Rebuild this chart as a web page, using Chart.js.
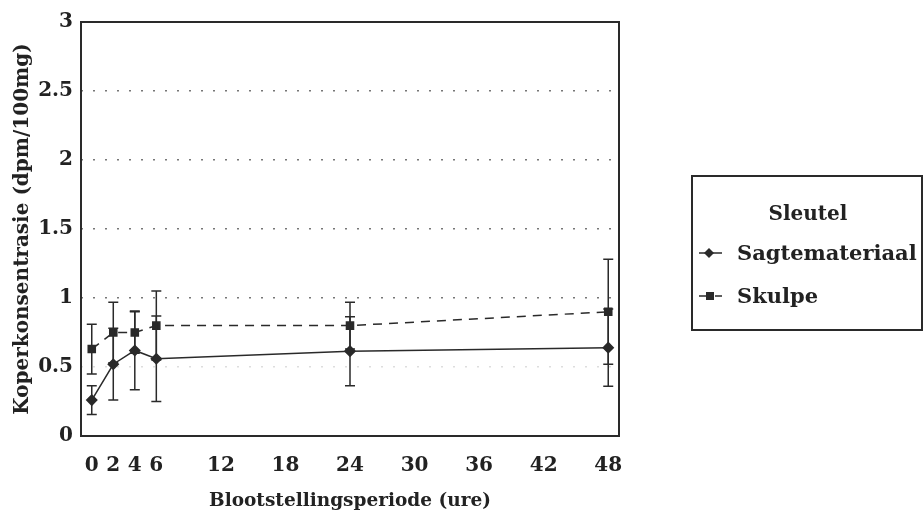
<!DOCTYPE html>
<html>
<head>
<meta charset="utf-8">
<script src="https://cdn.jsdelivr.net/npm/chart.js@4.4.1/dist/chart.umd.min.js"></script>
<style>
body { margin: 0; background: #fff; }
#wrap { width: 923px; height: 518px; }
</style>
</head>
<body>
<div id="wrap"><canvas id="myChart" width="923" height="518"></canvas></div>
<script>
var hours = [0, 2, 4, 6, 24, 48]
var xTicks = [0, 2, 4, 6, 12, 18, 24, 30, 36, 42, 48]
var yTicks = [0, 0.5, 1, 1.5, 2, 2.5, 3]
var sagte = [0.26, 0.52, 0.62, 0.56, 0.615, 0.64]
var sagteErr = [0.105, 0.26, 0.285, 0.31, 0.25, 0.28]
var skulpe = [0.63, 0.75, 0.75, 0.80, 0.80, 0.90]
var skulpeErr = [0.18, 0.22, 0.15, 0.25, 0.17, 0.38]

var ink = '#2a2a2a'
var serif = '"DejaVu Serif", "Liberation Serif", serif'

function pts(vals) {
	return hours.map(function (h, i) { return { x: h, y: vals[i] } })
}

// error bars, drawn from the scales
var errorBars = {
	id: 'errorBars',
	afterDatasetsDraw: function (chart) {
		var c = chart.ctx
		var xs = chart.scales.x, ys = chart.scales.y
		c.save()
		c.strokeStyle = ink
		c.lineWidth = 1.5
		chart.data.datasets.forEach(function (ds) {
			ds.data.forEach(function (p, i) {
				var px = xs.getPixelForValue(p.x)
				var top = ys.getPixelForValue(p.y + ds.err[i])
				var bot = ys.getPixelForValue(p.y - ds.err[i])
				c.beginPath()
				c.moveTo(px, top); c.lineTo(px, bot)
				c.moveTo(px - 5, top); c.lineTo(px + 5, top)
				c.moveTo(px - 5, bot); c.lineTo(px + 5, bot)
				c.stroke()
			})
		})
		c.restore()
	}
}

// plot frame + boxed legend
var frame = {
	id: 'frame',
	afterDraw: function (chart) {
		var c = chart.ctx
		var a = chart.chartArea
		c.save()
		c.strokeStyle = ink
		c.lineWidth = 2
		c.strokeRect(a.left, a.top, a.right - a.left, a.bottom - a.top)

		// legend box
		var bx = 692, by = 176, bw = 230, bh = 154
		c.strokeRect(bx, by, bw, bh)
		c.fillStyle = '#222'
		c.textBaseline = 'middle'
		c.textAlign = 'center'
		c.font = 'bold 20px ' + serif
		c.fillText('Sleutel', bx + 116, by + 39)
		c.textAlign = 'left'
		c.font = 'bold 21px ' + serif
		chart.data.datasets.forEach(function (ds, i) {
			var y = by + 77 + i * 43
			c.beginPath()
			c.lineWidth = 1.5
			c.setLineDash(ds.borderDash || [])
			c.moveTo(bx + 7, y); c.lineTo(bx + 30, y)
			c.stroke()
			c.setLineDash([])
			c.fillStyle = ink
			c.beginPath()
			if (ds.pointStyle === 'rectRot') {
				c.moveTo(bx + 17, y - 5); c.lineTo(bx + 22, y); c.lineTo(bx + 17, y + 5); c.lineTo(bx + 12, y)
			} else {
				c.rect(bx + 14, y - 4, 8, 8)
			}
			c.closePath()
			c.fill()
			c.fillStyle = '#222'
			c.fillText(ds.label, bx + 45, y + 2)
		})
		c.restore()
	}
}

var ctx = document.getElementById('myChart')
var chart = new Chart(ctx, {
	type: 'line',
	data: {
		datasets: [{
			label: 'Sagtemateriaal',
			data: pts(sagte),
			err: sagteErr,
			borderColor: ink,
			backgroundColor: ink,
			borderWidth: 1.5,
			pointStyle: 'rectRot',
			pointRadius: 5,
			lineTension: 0,
			fill: false,
		}, {
			label: 'Skulpe',
			data: pts(skulpe),
			err: skulpeErr,
			borderColor: ink,
			backgroundColor: ink,
			borderWidth: 1.5,
			borderDash: [9, 7],
			pointStyle: 'rect',
			pointRadius: 5,
			lineTension: 0,
			fill: false,
		}]
	},
	options: {
		responsive: false,
		animation: false,
		layout: { padding: { left: 0, right: 304, top: 22, bottom: 0 } },
		plugins: { legend: { display: false }, tooltip: { enabled: false } },
		scales: {
			x: {
				type: 'linear',
				min: -1,
				max: 49,
				afterBuildTicks: function (s) { s.ticks = xTicks.map(function (v) { return { value: v } }) },
				afterFit: function (s) { s.height = 82 },
				grid: { display: false, drawTicks: false },
				border: { display: false },
				ticks: { color: '#222', padding: 18, maxRotation: 0, autoSkip: false, font: { family: serif, size: 20, weight: 'bold' } },
				title: { display: true, text: 'Blootstellingsperiode (ure)', color: '#222', padding: { top: 10, bottom: 6 }, font: { family: serif, size: 18.5, weight: 'bold' } }
			},
			y: {
				min: 0,
				max: 3,
				afterBuildTicks: function (s) { s.ticks = yTicks.map(function (v) { return { value: v } }) },
				afterFit: function (s) { s.width = 81 },
				ticks: { color: '#222', padding: 8, callback: function (v) { return String(v) }, font: { family: serif, size: 20, weight: 'bold' } },
				grid: {
					drawTicks: false,
					color: function (c) {
						var v = c.tick.value
						if (v === 0.5) return 'rgba(120,120,120,0.25)'
						return (v > 0 && v < 3) ? '#777' : 'rgba(0,0,0,0)'
					},
					lineWidth: 1.5,
				},
				border: { display: false, dash: [2, 10] },
				title: { display: true, text: 'Koperkonsentrasie (dpm/100mg)', color: '#222', padding: { top: 11, bottom: 2 }, font: { family: serif, size: 20, weight: 'bold' } }
			}
		}
	},
	plugins: [errorBars, frame]
})
</script>
</body>
</html>
